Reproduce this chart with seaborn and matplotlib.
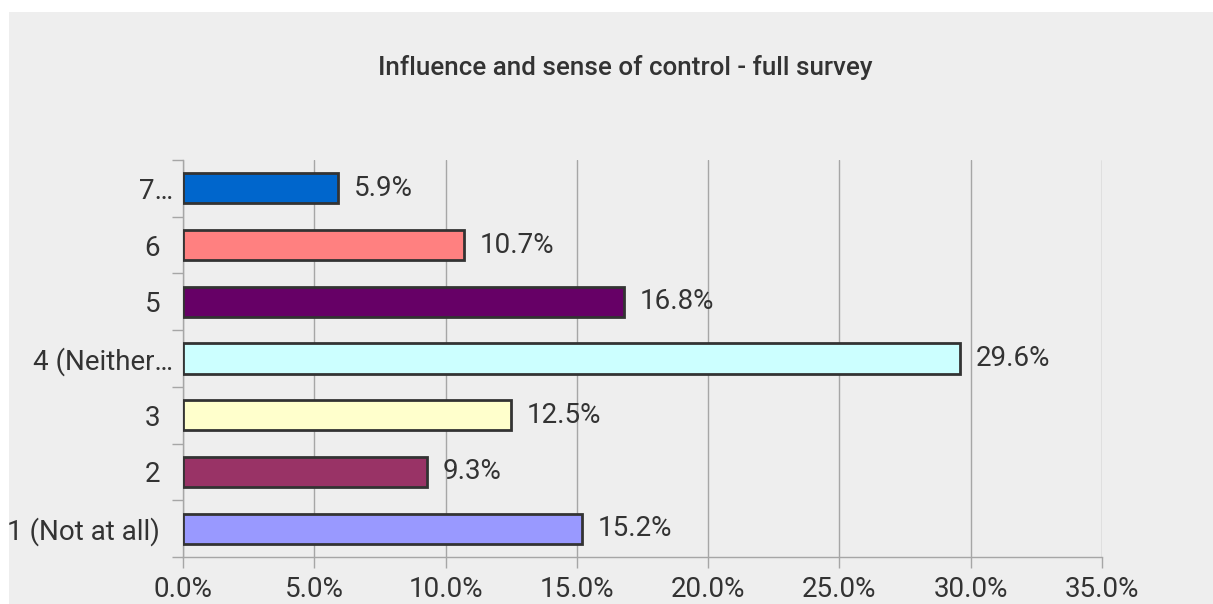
import matplotlib
matplotlib.use("Agg")

import matplotlib.pyplot as plt
import seaborn as sns
import pandas as pd
from matplotlib.patches import Rectangle
from matplotlib.ticker import FixedLocator, PercentFormatter

categories = ["7…", "6", "5", "4 (Neither…", "3", "2", "1 (Not at all)"]
shares = [5.9, 10.7, 16.8, 29.6, 12.5, 9.3, 15.2]
bar_colors = ["#0066CC", "#FF8080", "#660066", "#CCFFFF", "#FFFFCC", "#993366", "#9999FF"]
x_ticks = [0, 5, 10, 15, 20, 25, 30, 35]

df = pd.DataFrame({"category": categories, "share": shares})

sns.set_theme(style="white")
plt.rcParams["font.family"] = ["Roboto", "DejaVu Sans"]

bg = "#eeeeee"
text_col = "#333333"
grid_col = "#a6a6a6"
fs = 20

W, H = 1213, 604
fig = plt.figure(figsize=(W / 100, H / 100), dpi=100, facecolor="white")
fig.patches.append(Rectangle((9 / W, 0), 1 - 9 / W, 1 - 12 / H, transform=fig.transFigure,
                             facecolor=bg, edgecolor="none", zorder=-1))

ax = fig.add_axes([183 / W, (H - 557) / H, (1102 - 183) / W, (557 - 160) / H])
ax.set_zorder(1)
ax.set_facecolor(bg)

sns.barplot(data=df, x="share", y="category", hue="category", palette=bar_colors,
            saturation=1, legend=False, width=0.53, edgecolor="#333333", linewidth=2,
            ax=ax, zorder=3)

for i, v in enumerate(shares):
    ax.text(v + 0.6, i, f"{v:.1f}%", va="center", ha="left", fontsize=fs, color=text_col)

ax.set_xlim(0, 35)
ax.set_ylim(6.5, -0.5)
ax.set_xticks(x_ticks)
ax.xaxis.set_major_formatter(PercentFormatter(decimals=1))
ax.grid(axis="x", color=grid_col, linewidth=1, zorder=0)
ax.grid(axis="y", visible=False)
ax.set_axisbelow(True)

ax.yaxis.set_minor_locator(FixedLocator([i - 0.5 for i in range(len(categories) + 1)]))
ax.tick_params(axis="y", which="major", length=0, pad=16.5, labelsize=fs, labelcolor=text_col)
ax.tick_params(axis="y", which="minor", length=8, width=1, color=grid_col, left=True)
ax.tick_params(axis="x", which="major", length=8, width=1, color=grid_col, bottom=True,
               pad=6, labelsize=fs, labelcolor=text_col)

# truncated labels sit closer to the axis
for tick, name in zip(ax.yaxis.get_major_ticks(), categories):
    if name.endswith("…"):
        tick.set_pad(7)

for side in ["top", "right"]:
    ax.spines[side].set_visible(False)
for side in ["left", "bottom"]:
    ax.spines[side].set_color(grid_col)
    ax.spines[side].set_linewidth(1)

ax.set_xlabel("")
ax.set_ylabel("")

fig.text(625 / W, 1 - 68 / H, "Influence and sense of control - full survey", ha="center", va="center",
         fontsize=18.7, fontweight="medium", color=text_col)

fig.savefig("out.png", dpi=100, facecolor="white")
